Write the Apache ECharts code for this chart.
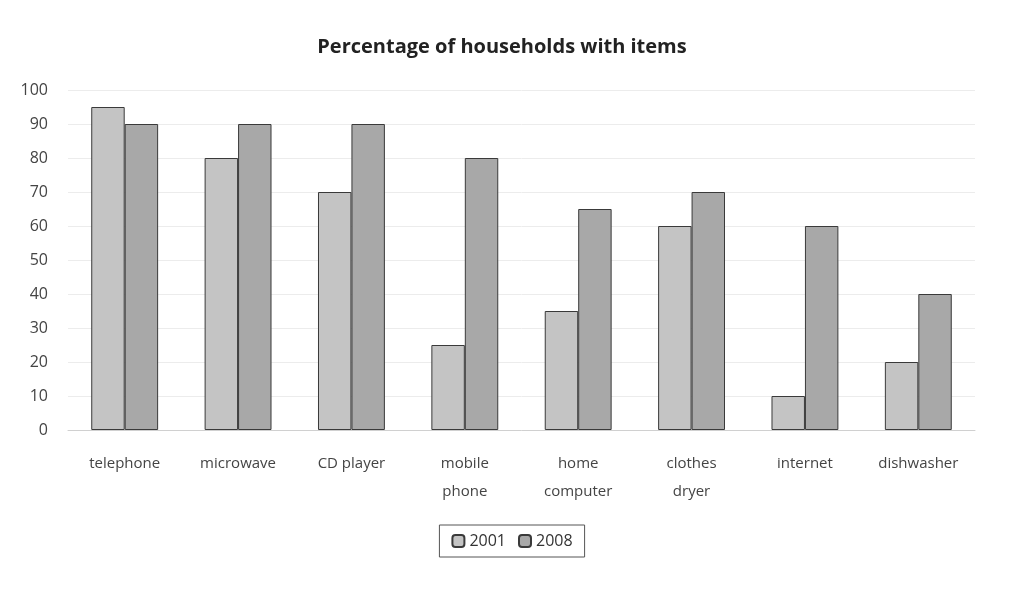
<!DOCTYPE html>
<html>
<head>
<meta charset="utf-8">
<script src="https://cdn.jsdelivr.net/npm/echarts@6/dist/echarts.min.js"></script>
<style>html,body{margin:0;background:#fff}#chart{width:1024px;height:615px}</style>
</head>
<body>
<div id="chart"></div>
<script>
var categories = ['telephone', 'microwave', 'CD player', 'mobile\nphone', 'home\ncomputer', 'clothes\ndryer', 'internet', 'dishwasher'];
var values2001 = [95, 80, 70, 25, 35, 60, 10, 20];
var values2008 = [90, 90, 90, 80, 65, 70, 60, 40];

var chart = echarts.init(document.getElementById('chart'));
var font = 'Open Sans';
chart.setOption({
  animation: false,
  textStyle: { fontFamily: font },
  title: {
    text: 'Percentage of households with items',
    left: 497, top: 32, textAlign: 'center',
    textStyle: { fontSize: 20, fontWeight: 'bold', color: '#222', fontFamily: font }
  },
  legend: {
    bottom: 58, left: 'center',
    itemWidth: 12, itemHeight: 12, itemGap: 12,
    padding: [8, 12], borderColor: '#555', borderWidth: 1,
    textStyle: { fontSize: 16, color: '#333' },
    data: ['2001', '2008']
  },
  grid: { left: 68, right: 49, top: 90, bottom: 185, containLabel: false },
  xAxis: {
    type: 'category', data: categories,
    axisTick: { show: false },
    axisLine: { lineStyle: { color: '#d0d0d0' } },
    axisLabel: { interval: 0, fontSize: 15, color: '#444', margin: 20, lineHeight: 28 }
  },
  yAxis: {
    type: 'value', min: 0, max: 100, interval: 10,
    axisLabel: { fontSize: 16, color: '#444', margin: 20 },
    splitLine: { lineStyle: { color: '#ececec' } }
  },
  series: [
    { name: '2001', type: 'bar', data: values2001, barGap: '0%', barCategoryGap: '41%',
      itemStyle: { color: '#c4c4c4', borderColor: '#3a3a3a', borderWidth: 1 } },
    { name: '2008', type: 'bar', data: values2008,
      itemStyle: { color: '#a8a8a8', borderColor: '#3a3a3a', borderWidth: 1 } }
  ]
});
</script>
</body>
</html>
